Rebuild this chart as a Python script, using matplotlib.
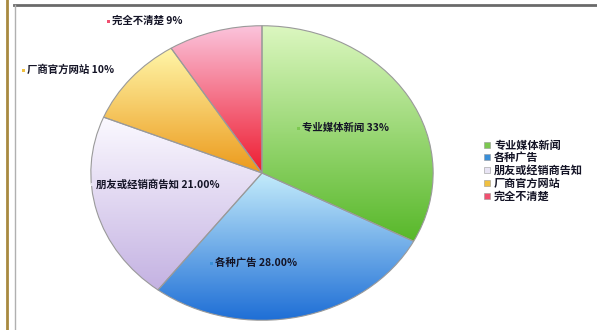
import numpy as np
import matplotlib
matplotlib.use("Agg")
import matplotlib.pyplot as plt
from matplotlib.colors import LinearSegmentedColormap
from matplotlib.lines import Line2D
from matplotlib.patches import Rectangle

plt.rcParams['font.family'] = ['Noto Sans CJK SC', 'DejaVu Sans']

# data
categories = ['专业媒体新闻', '各种广告', '朋友或经销商告知', '厂商官方网站', '完全不清楚']
values = [33, 28, 21, 10, 9]
pct_labels = ['33%', '28.00%', '21.00%', '10%', '9%']

# top (light) / bottom (dark) colours of each slice
light = ['#dcf7c0', '#c4ecfb', '#fbf9ff', '#fff6a8', '#fbc4dc']
dark = ['#58b82a', '#1f6fd6', '#c4b2e2', '#ec9a1c', '#ee1c30']
legend_cols = ['#7cc850', '#3a8fd8', '#e8e4f4', '#f0c040', '#f05070']

W, H = 597, 330
fig = plt.figure(figsize=(W / 100, H / 100), dpi=100)

# the scanned pie is slightly stretched sideways -> ellipse
cx, cy, rx, ry = 262, 173, 172, 148
axp = fig.add_axes([(cx - rx) / W, (H - cy - ry) / H, 2 * rx / W, 2 * ry / H])
wedges, _ = axp.pie(values, radius=1, startangle=90, counterclock=False,
                    wedgeprops=dict(linewidth=0.8, edgecolor='#9a9a9a'))
for w, c1, c2 in zip(wedges, light, dark):
    w.set_facecolor('none')
    bb = w.get_path().get_extents(w.get_patch_transform())
    grad = np.linspace(0, 1, 128).reshape(-1, 1)
    cmap = LinearSegmentedColormap.from_list('g', [c2, c1])
    im = axp.imshow(grad, cmap=cmap, aspect='auto', origin='lower',
                    extent=[bb.x0, bb.x1, bb.y0, bb.y1], zorder=0.5)
    im.set_clip_path(w)
axp.set_xlim(-1.005, 1.005)
axp.set_ylim(-1.005, 1.005)
axp.set_aspect('auto')
axp.axis('off')

# overlay in pixel coordinates (y measured from the top)
ax = fig.add_axes([0, 0, 1, 1])
ax.set_xlim(0, W)
ax.set_ylim(H, 0)
ax.axis('off')

lab_pos = [(297, 128), (210, 263), (91, 184), (22, 70), (107, 21)]
for (x, y), cat, p, col in zip(lab_pos, categories, pct_labels, legend_cols):
    ax.add_patch(Rectangle((x, y - 1.5), 3, 3, facecolor=col, edgecolor='none'))
    ax.text(x + 5, y, cat + ' ' + p, fontsize=7.5, fontweight='bold',
            color='#141426', va='center', ha='left')

# legend
leg_y = [145, 157, 170, 183, 196]
for y, cat, col in zip(leg_y, categories, legend_cols):
    ax.add_patch(Rectangle((484, y - 3), 6, 6, facecolor=col,
                           edgecolor='#999999', linewidth=0.4))
    ax.text(494, y, cat, fontsize=8, fontweight='bold', color='#141426',
            va='center', ha='left')

# scan border lines
fig.add_artist(Line2D([14 / W, 1], [1 - 5 / H, 1 - 5 / H], color='#6a6a6a', lw=2))
fig.add_artist(Line2D([7 / W, 7 / W], [0, 1], color='#a88a40', lw=2))
fig.add_artist(Line2D([15 / W, 15 / W], [0, 1 - 5 / H], color='#b0b0b0', lw=1))

fig.savefig('out.png', dpi=100)
